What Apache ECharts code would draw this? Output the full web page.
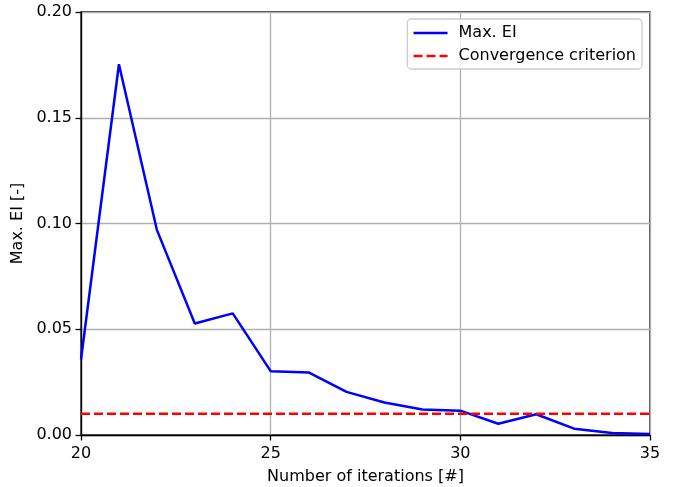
<!DOCTYPE html>
<html>
<head>
<meta charset="utf-8">
<script src="https://cdn.jsdelivr.net/npm/echarts@6/dist/echarts.min.js"></script>
<style>
  html, body { margin: 0; padding: 0; background: #fff; }
  #chart { width: 678px; height: 487px; }
</style>
</head>
<body>
<div id="chart"></div>
<script>
// Iteration numbers and the maximum expected improvement at each one
const iterations = [20, 21, 22, 23, 24, 25, 26, 27, 28, 29, 30, 31, 32, 33, 34, 35];
const maxEI = [0.0357, 0.1753, 0.0970, 0.0527, 0.0575, 0.0302, 0.0296, 0.0204, 0.0154, 0.0121, 0.0115, 0.0053, 0.0098, 0.0030, 0.0009, 0.0005];
// Threshold below which the optimisation counts as converged
const criterion = 0.01;
const xRange = [20, 35];
const yTicks = [0, 0.05, 0.10, 0.15, 0.20];

const FONT = 'DejaVu Sans';
const FS = 16;
const chart = echarts.init(document.getElementById('chart'), null, { renderer: 'canvas' });

const gridLine = { show: true, lineStyle: { color: '#b0b0b0', width: 1.3 } };
const tickStyle = { show: true, length: 5.5, inside: false, lineStyle: { color: '#000', width: 1.3 } };

chart.setOption({
  animation: false,
  backgroundColor: '#fff',
  textStyle: { fontFamily: FONT },
  grid: {
    left: 81, right: 28, top: 12, bottom: 52,
    containLabel: false, outerBoundsMode: 'none',
    show: true, borderColor: '#000', borderWidth: 1.3, backgroundColor: 'transparent'
  },
  legend: {
    orient: 'vertical',
    right: 36, top: 19,
    padding: [6, 6, 5, 5],
    itemGap: 7,
    itemWidth: 34, itemHeight: 16,
    borderColor: '#cccccc', borderWidth: 1.3, borderRadius: 4,
    backgroundColor: 'rgba(255,255,255,0.8)',
    itemStyle: { opacity: 0 },
    lineStyle: { width: 2.5 },
    textStyle: { fontFamily: FONT, fontSize: FS, color: '#000', padding: [0, 0, 0, 6] },
    data: ['Max. EI', 'Convergence criterion']
  },
  xAxis: {
    type: 'value',
    min: xRange[0], max: xRange[1], interval: 5,
    name: 'Number of iterations [#]',
    nameLocation: 'middle', nameGap: 34,
    nameTextStyle: { fontFamily: FONT, fontSize: FS, color: '#000' },
    axisLine: { show: true, onZero: false, lineStyle: { color: '#000', width: 1.3 } },
    axisTick: tickStyle,
    axisLabel: { fontFamily: FONT, fontSize: FS, color: '#000', margin: 11 },
    splitLine: gridLine
  },
  yAxis: {
    type: 'value',
    min: yTicks[0], max: yTicks[yTicks.length - 1], interval: 0.05,
    name: 'Max. EI [-]',
    nameLocation: 'middle', nameGap: 47,
    nameTextStyle: { fontFamily: FONT, fontSize: FS, color: '#000' },
    axisLine: { show: true, lineStyle: { color: '#000', width: 1.3 } },
    axisTick: tickStyle,
    axisLabel: { fontFamily: FONT, fontSize: FS, color: '#000', margin: 9,
      formatter: v => v.toFixed(2) },
    splitLine: gridLine
  },
  series: [
    {
      name: 'Max. EI',
      type: 'line',
      data: iterations.map((x, i) => [x, maxEI[i]]),
      symbol: 'none',
      lineStyle: { color: '#0000ff', width: 2.5 },
      itemStyle: { color: '#0000ff' },
      z: 3
    },
    {
      name: 'Convergence criterion',
      type: 'line',
      data: [[xRange[0], criterion], [xRange[1], criterion]],
      symbol: 'none',
      lineStyle: { color: '#ff0000', width: 2.5, type: [9, 4] },
      itemStyle: { color: '#ff0000' },
      z: 4
    }
  ]
});
</script>
</body>
</html>
